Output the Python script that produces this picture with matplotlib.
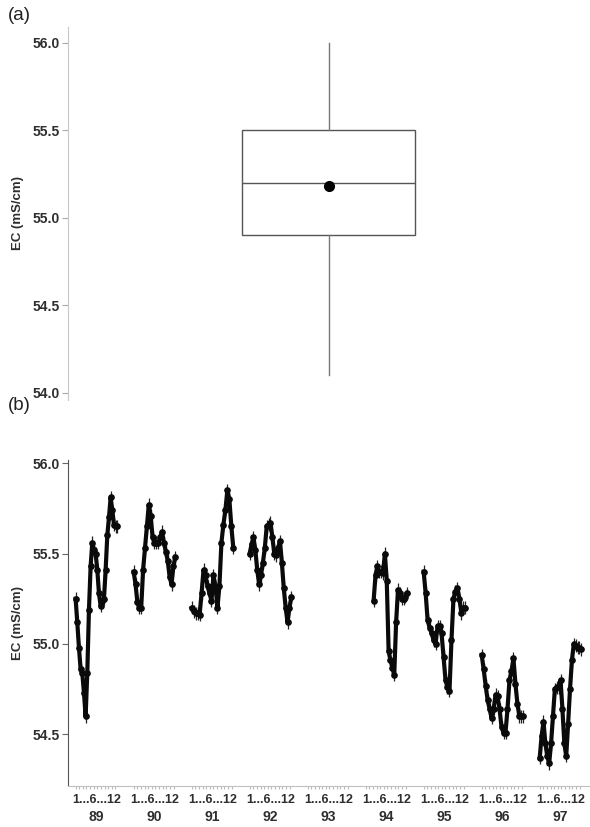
import numpy as np
import matplotlib
matplotlib.use("Agg")
import matplotlib.pyplot as plt

# ---------------- data ----------------
# panel (a): summary of EC (mS/cm)
box_q1, box_median, box_q3 = 54.9, 55.2, 55.5
box_low, box_high = 54.1, 56.0
box_mean = 55.18

# panel (b): EC time series per year
years = ["89", "90", "91", "92", "93", "94", "95", "96", "97"]
first_month = [1.0, 1.0, 1.0, 1.0, 1.0, 3.2, 1.0, 1.0, 1.0]
last_month = [12.5, 12.5, 12.5, 12.5, 12.5, 12.5, 12.5, 12.5, 12.5]

ec_89 = [55.25, 55.12, 54.98, 54.86, 54.84, 54.73, 54.60, 54.84, 55.19, 55.43,
         55.56, 55.52, 55.50, 55.41, 55.28, 55.21, 55.24, 55.25, 55.41, 55.60,
         55.70, 55.81, 55.74, 55.66, 55.65, 55.65]
ec_90 = [55.40, 55.33, 55.23, 55.20, 55.20, 55.41, 55.53, 55.65, 55.77, 55.71,
         55.59, 55.56, 55.56, 55.56, 55.59, 55.62, 55.56, 55.51, 55.46, 55.37,
         55.33, 55.43, 55.48]
ec_91 = [55.20, 55.18, 55.17, 55.17, 55.16, 55.28, 55.41, 55.38, 55.32, 55.28,
         55.24, 55.38, 55.32, 55.20, 55.32, 55.56, 55.66, 55.74, 55.85, 55.80,
         55.65, 55.53]
ec_92 = [55.50, 55.55, 55.59, 55.52, 55.41, 55.33, 55.38, 55.45, 55.53, 55.65,
         55.66, 55.67, 55.59, 55.50, 55.49, 55.53, 55.57, 55.45, 55.31, 55.20,
         55.12, 55.20, 55.26]
ec_93 = []
ec_94 = [55.24, 55.38, 55.43, 55.40, 55.40, 55.39, 55.50, 55.35, 54.96, 54.91,
         54.87, 54.83, 55.12, 55.30, 55.28, 55.25, 55.25, 55.26, 55.28]
ec_95 = [55.40, 55.28, 55.13, 55.09, 55.06, 55.02, 55.00, 55.10, 55.10, 55.06,
         54.93, 54.80, 54.76, 54.74, 55.02, 55.25, 55.29, 55.31, 55.25, 55.17,
         55.20, 55.20]
ec_96 = [54.94, 54.86, 54.77, 54.69, 54.64, 54.59, 54.64, 54.72, 54.71, 54.64,
         54.54, 54.51, 54.51, 54.64, 54.80, 54.85, 54.92, 54.78, 54.67, 54.60,
         54.60, 54.60]
ec_97 = [54.37, 54.49, 54.57, 54.45, 54.38, 54.34, 54.45, 54.60, 54.75, 54.76,
         54.76, 54.80, 54.64, 54.45, 54.38, 54.56, 54.75, 54.91, 55.00, 54.99,
         54.98, 54.98, 54.97]
ec_series = [ec_89, ec_90, ec_91, ec_92, ec_93, ec_94, ec_95, ec_96, ec_97]
ec_err = 0.035

y_ticks = [54.0, 54.5, 55.0, 55.5, 56.0]
y_ticks_b = [54.5, 55.0, 55.5, 56.0]
month_label = "1...6...12"
y_label = "EC (mS/cm)"

# ---------------- style ----------------
W, H = 590, 827
fig = plt.figure(figsize=(W / 100, H / 100), dpi=100)
lab_font = dict(family="Liberation Sans", weight="bold")
tick_col = "#2e2e2e"

def px(x0, y0, x1, y1):
    return [x0 / W, 1 - y1 / H, (x1 - x0) / W, (y1 - y0) / H]

# ---------------- panel (a) ----------------
ax1 = fig.add_axes(px(68, 27, 589, 400))
stats = [dict(med=box_median, q1=box_q1, q3=box_q3, whislo=box_low,
              whishi=box_high, mean=box_mean, fliers=[])]
ax1.bxp(stats, positions=[0.5], widths=[0.333], showmeans=True,
        showcaps=False, patch_artist=True,
        boxprops=dict(facecolor="white", edgecolor="#555555", linewidth=1.0),
        medianprops=dict(color="#555555", linewidth=1.0),
        whiskerprops=dict(color="#777777", linewidth=1.0),
        meanprops=dict(marker="o", markerfacecolor="black",
                       markeredgecolor="black", markersize=7))
ax1.set_xlim(0, 1)
ax1.set_ylim(53.96, 56.09)
ax1.set_yticks(y_ticks)
ax1.set_yticklabels([f"{v:.1f}" for v in y_ticks], color=tick_col,
                    fontsize=10, **lab_font)
ax1.set_xticks([])
for s in ["top", "right", "bottom"]:
    ax1.spines[s].set_visible(False)
ax1.spines["left"].set_color("#c8c8c8")
ax1.tick_params(axis="y", length=4, color="#aaaaaa", pad=2)
ax1.set_ylabel(y_label, fontsize=9.5, color=tick_col, labelpad=6, **lab_font)
fig.text(8 / W, 1 - 15 / H, "(a)", fontsize=13.5, va="center", ha="left",
         family="Liberation Sans", color="#222222")

# ---------------- panel (b) ----------------
ax2 = fig.add_axes(px(68, 460, 589, 786))
group = 16.0
for k, vals in enumerate(ec_series):
    if len(vals) == 0:
        continue
    t = k * group + np.linspace(first_month[k], last_month[k], len(vals))
    ax2.errorbar(t, vals, yerr=ec_err, color="#0a0a0a", lw=3.0,
                 elinewidth=0.9, ecolor="#222222", capsize=0,
                 marker="o", markersize=3.8, zorder=3)

ax2.set_xlim(-1.1, 8 * group + 14.6)
ax2.set_ylim(54.215, 56.017)
ax2.set_yticks(y_ticks_b)
ax2.set_yticklabels([f"{v:.1f}" for v in y_ticks_b], color=tick_col,
                    fontsize=10, **lab_font)
minor = [k * group + m for k in range(len(years)) for m in np.arange(1, 13)]
ax2.set_xticks(minor, minor=True)
ax2.set_xticks([])
ax2.tick_params(axis="x", which="minor", length=2.5, color="#bbbbbb",
                width=0.8)
ax2.tick_params(axis="y", length=4, color="#666666", pad=2)
for s in ["top", "right"]:
    ax2.spines[s].set_visible(False)
ax2.spines["left"].set_color("#555555")
ax2.spines["bottom"].set_color("#c0c0c0")
ax2.set_ylabel(y_label, fontsize=9.5, color=tick_col, labelpad=6, **lab_font)

trans = ax2.get_xaxis_transform()
for k, yr in enumerate(years):
    c = k * group + 6.75
    ax2.text(c, -0.043, month_label, transform=trans, ha="center",
             va="center", fontsize=9, color=tick_col, **lab_font)
    ax2.text(c, -0.095, yr, transform=trans, ha="center", va="center",
             fontsize=10, color=tick_col, **lab_font)

fig.text(8 / W, 1 - 405 / H, "(b)", fontsize=13.5, va="center", ha="left",
         family="Liberation Sans", color="#222222")

fig.savefig("out.png", dpi=100)
